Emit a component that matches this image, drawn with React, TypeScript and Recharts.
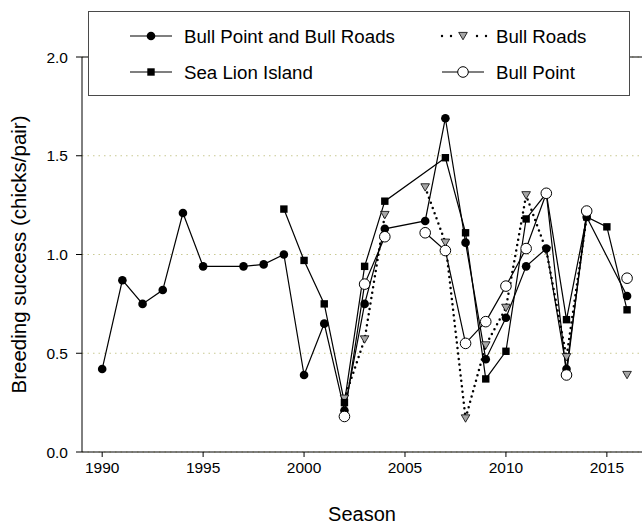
import { LineChart, Line, XAxis, YAxis, CartesianGrid, ReferenceLine, Legend } from 'recharts';

// Seasons (breeding years)
const seasons = [
    1990, 1991, 1992, 1993, 1994, 1995, 1996, 1997, 1998, 1999,
    2000, 2001, 2002, 2003, 2004, 2005, 2006, 2007, 2008, 2009,
    2010, 2011, 2012, 2013, 2014, 2015, 2016
];

// Breeding success (chicks/pair), null = no survey that season
const bullPointAndRoads = [
    0.42, 0.87, 0.75, 0.82, 1.21, 0.94, null, 0.94, 0.95, 1.00,
    0.39, 0.65, 0.21, 0.75, 1.13, null, 1.17, 1.69, 1.06, 0.47,
    0.68, 0.94, 1.03, 0.42, 1.19, null, 0.79
];
const seaLionIsland = [
    null, null, null, null, null, null, null, null, null, 1.23,
    0.97, 0.75, 0.25, 0.94, 1.27, null, null, 1.49, 1.11, 0.37,
    0.51, 1.18, 1.31, 0.67, 1.19, 1.14, 0.72
];
const bullRoads = [
    null, null, null, null, null, null, null, null, null, null,
    null, null, 0.27, 0.57, 1.20, null, 1.34, 1.06, 0.17, 0.54,
    0.73, 1.30, 1.02, 0.48, 1.19, null, 0.39
];
const bullPoint = [
    null, null, null, null, null, null, null, null, null, null,
    null, null, 0.18, 0.85, 1.09, null, 1.11, 1.02, 0.55, 0.66,
    0.84, 1.03, 1.31, 0.39, 1.22, null, 0.88
];

const xTicks = [1990, 1995, 2000, 2005, 2010, 2015];
const yTicks = [0, 0.5, 1.0, 1.5, 2.0];

const data = seasons.map((year, i) => ({
    year,
    combined: bullPointAndRoads[i],
    seaLion: seaLionIsland[i],
    bullRoads: bullRoads[i],
    bullPoint: bullPoint[i]
}));

type MarkerKind = 'dot' | 'square' | 'triangle' | 'ring';

function drawMarker(kind: MarkerKind, cx: number, cy: number, key?: any) {
    switch (kind) {
        case 'dot':
            return <circle key={key} cx={cx} cy={cy} r={4.3} fill="#000" />;
        case 'square':
            return <rect key={key} x={cx - 3.7} y={cy - 3.7} width={7.4} height={7.4} fill="#000" />;
        case 'triangle':
            return (
                <polygon
                    key={key}
                    points={`${cx - 4.3},${cy - 3.6} ${cx + 4.3},${cy - 3.6} ${cx},${cy + 3.8}`}
                    fill="#a6a6a6"
                    stroke="#000"
                    strokeWidth={0.8}
                />
            );
        default:
            return <circle key={key} cx={cx} cy={cy} r={5.3} fill="#fff" stroke="#000" strokeWidth={1} />;
    }
}

const markerDot = (kind: MarkerKind) => (props: any) => {
    const { cx, cy, index, value } = props;
    if (value == null || cx == null || cy == null || isNaN(cy)) return <g key={index} />;
    return drawMarker(kind, cx, cy, index);
};

const series = [
    { key: 'bullRoads', name: 'Bull Roads', marker: 'triangle' as MarkerKind, dotted: true, connect: false },
    { key: 'combined', name: 'Bull Point and Bull Roads', marker: 'dot' as MarkerKind, dotted: false, connect: true },
    { key: 'seaLion', name: 'Sea Lion Island', marker: 'square' as MarkerKind, dotted: false, connect: true },
    { key: 'bullPoint', name: 'Bull Point', marker: 'ring' as MarkerKind, dotted: false, connect: false }
];

// legend entries: two columns, two rows
const legendSlots: Record<string, { x: number; y: number }> = {
    combined: { x: 42, y: 25 },
    bullRoads: { x: 354, y: 25 },
    seaLion: { x: 42, y: 61 },
    bullPoint: { x: 354, y: 61 }
};

function LegendBox() {
    return (
        <div style={{
            width: 542,
            height: 85,
            boxSizing: 'border-box',
            border: '1.3px solid #4a4a4a',
            background: '#fff'
        }}>
            <svg width={540} height={83} style={{ display: 'block', position: 'relative', left: -1.3, top: -1.3 }}>
                {series.map((s) => {
                    const { x, y } = legendSlots[s.key];
                    const mid = x + 21;
                    return (
                        <g key={s.key}>
                            {s.dotted ? (
                                <>
                                    <line x1={x} y1={y} x2={x + 12} y2={y} stroke="#000" strokeWidth={2.4}
                                        strokeDasharray="0 9" strokeLinecap="round" />
                                    <line x1={x + 35} y1={y} x2={x + 47} y2={y} stroke="#000" strokeWidth={2.4}
                                        strokeDasharray="0 9" strokeLinecap="round" />
                                </>
                            ) : (
                                <line x1={x} y1={y} x2={x + 42} y2={y} stroke="#000" strokeWidth={1.2} />
                            )}
                            {drawMarker(s.marker, mid, y)}
                            <text x={x + 54} y={y + 6.6} fontSize={18.7} fill="#000">{s.name}</text>
                        </g>
                    );
                })}
            </svg>
        </div>
    );
}

const SeasonLabel = (props: any) => {
    const { viewBox } = props;
    return (
        <text x={viewBox.x + viewBox.width / 2} y={viewBox.y + 62} textAnchor="middle"
            dominantBaseline="central" fontSize={20} fill="#000">
            Season
        </text>
    );
};

const SuccessLabel = (props: any) => {
    const { viewBox } = props;
    const cx = 18;
    const cy = viewBox.y + viewBox.height / 2;
    return (
        <text x={cx} y={cy} transform={`rotate(-90 ${cx} ${cy})`} textAnchor="middle"
            dominantBaseline="central" fontSize={20.5} fill="#000">
            Breeding success (chicks/pair)
        </text>
    );
};

export default function App() {
    return (
        <div style={{
            position: 'absolute',
            left: 0,
            top: 0,
            width: 642,
            height: 524,
            overflow: 'hidden',
            background: '#fff',
            fontFamily: "Arial, 'Liberation Sans', sans-serif"
        }}>
            <LineChart width={642} height={524} data={data} margin={{ top: 57, right: 0, bottom: 0, left: 0 }}>
                <CartesianGrid vertical={false} stroke="#c9c992" strokeDasharray="1.5 4" />
                <ReferenceLine y={2} stroke="#000" strokeWidth={1} />
                <XAxis
                    dataKey="year"
                    type="number"
                    domain={[1989, 2016.74]}
                    ticks={xTicks}
                    allowDataOverflow
                    height={72}
                    stroke="#000"
                    tickSize={5}
                    tickMargin={5}
                    tick={{ fill: '#000', fontSize: 15.5 }}
                    label={<SeasonLabel />}
                />
                <YAxis
                    domain={[0, 2]}
                    ticks={yTicks}
                    width={82}
                    stroke="#000"
                    tickSize={6}
                    tickMargin={8}
                    tick={{ fill: '#000', fontSize: 15.5 }}
                    tickFormatter={(v: number) => v.toFixed(1)}
                    label={<SuccessLabel />}
                />
                <Legend
                    layout="horizontal"
                    verticalAlign="middle"
                    align="center"
                    wrapperStyle={{ left: 88, top: 11, width: 542, height: 85 }}
                    content={() => <LegendBox />}
                />
                {series.map((s) => (
                    <Line
                        key={s.key}
                        dataKey={s.key}
                        name={s.name}
                        type="linear"
                        stroke="#000"
                        strokeWidth={s.dotted ? 2.5 : 1.2}
                        strokeDasharray={s.dotted ? '0 5.5' : undefined}
                        strokeLinecap="round"
                        connectNulls={s.connect}
                        dot={markerDot(s.marker)}
                        activeDot={false}
                        isAnimationActive={false}
                    />
                ))}
            </LineChart>
        </div>
    );
}
